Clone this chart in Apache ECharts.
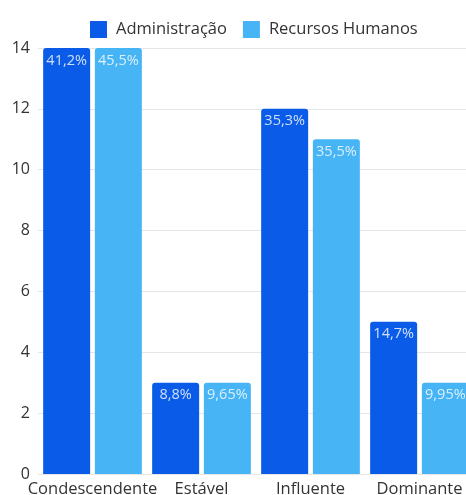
<!DOCTYPE html>
<html><head><meta charset="utf-8">
<script src="https://cdn.jsdelivr.net/npm/echarts@6/dist/echarts.min.js"></script>
<style>html,body{margin:0;padding:0;background:#fff;overflow:hidden}#c{width:466px;height:495px}</style>
</head><body><div id="c"></div>
<script>
const categories = ['Condescendente', 'Estável', 'Influente', 'Dominante'];
const adminValues = [14, 3, 12, 5];
const rhValues = [14, 3, 11, 3];
const adminLabels = ['41,2%', '8,8%', '35,3%', '14,7%'];
const rhLabels = ['45,5%', '9,65%', '35,5%', '9,95%'];
const yTicks = { min: 0, max: 14, interval: 2 };

const chart = echarts.init(document.getElementById('c'));
const labelCfg = (labels) => ({
  show: true, position: 'insideTop', distance: 5,
  color: 'rgba(255,255,255,0.8)', fontSize: 14.5, fontFamily: 'Open Sans',
  formatter: p => labels[p.dataIndex]
});
chart.setOption({
  animation: false,
  textStyle: { fontFamily: 'Open Sans' },
  legend: {
    top: 16, left: 85, itemWidth: 17, itemHeight: 17, itemGap: 16,
    icon: 'rect',
    textStyle: { fontSize: 16.5, color: '#333', fontFamily: 'Open Sans', padding: [0, 0, 0, 4] },
    data: ['Administração', 'Recursos Humanos']
  },
  grid: { left: 38, width: 436, top: 48, bottom: 21, containLabel: false, outerBoundsMode: 'none' },
  xAxis: {
    type: 'category', data: categories,
    axisLine: { show: false }, axisTick: { show: false },
    axisLabel: { fontSize: 16.5, color: '#333', margin: 7, interval: 0 }
  },
  yAxis: {
    type: 'value', min: yTicks.min, max: yTicks.max, interval: yTicks.interval,
    axisLabel: { fontSize: 16, color: '#333', margin: 8 },
    splitLine: { lineStyle: { color: '#e6e6e6' } }
  },
  series: [
    { name: 'Administração', type: 'bar', data: adminValues, barWidth: 47, barGap: '10%',
      itemStyle: { color: '#0a5ce8', borderRadius: [3,3,0,0] }, label: labelCfg(adminLabels) },
    { name: 'Recursos Humanos', type: 'bar', data: rhValues, barWidth: 47,
      itemStyle: { color: '#47b4f5', borderRadius: [3,3,0,0] }, label: labelCfg(rhLabels) }
  ]
});
</script></body></html>
